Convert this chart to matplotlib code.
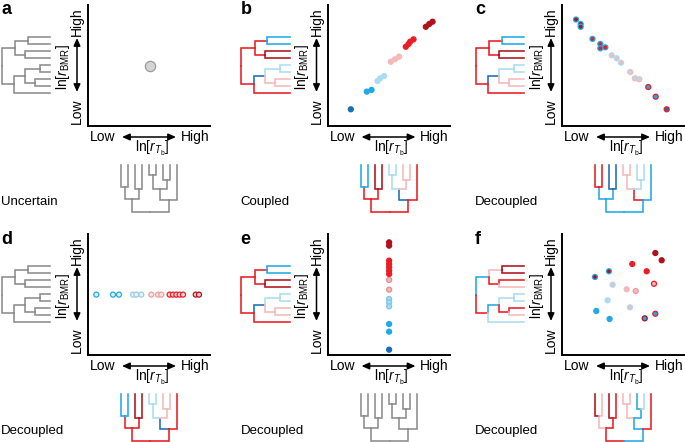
import numpy as np
import matplotlib
matplotlib.use('Agg')
import matplotlib.pyplot as plt

plt.rcParams['font.family'] = ['Liberation Sans', 'DejaVu Sans']
plt.rcParams['mathtext.fontset'] = 'custom'
plt.rcParams['mathtext.rm'] = 'Liberation Sans'
plt.rcParams['mathtext.it'] = 'Liberation Sans:italic'

W, H = 685, 442

# colores de tasas
DB = '#1c6db5'   # azul oscuro
B = '#1fa9e6'    # azul
LB = '#abdcf2'   # azul claro
LP = '#f5b9b9'   # rosa claro
R = '#ec1c24'    # rojo
DR = '#b0111b'   # rojo oscuro
G = '#8c8c8c'    # gris

# paneles
labels = ['a', 'b', 'c', 'd', 'e', 'f']
captions = ['Uncertain', 'Coupled', 'Decoupled', 'Decoupled', 'Decoupled', 'Decoupled']

# datos de dispersion (fraccion de los ejes)
a_x = [0.505]
a_y = [0.50]
a_face = ['#d4d4d4']
a_edge = ['#9a9a9a']

b_x = [0.191, 0.322, 0.361, 0.410, 0.432, 0.464, 0.519, 0.552, 0.587,
       0.642, 0.664, 0.678, 0.705, 0.806, 0.834, 0.861]
b_y = [0.138, 0.284, 0.298, 0.372, 0.394, 0.413, 0.531, 0.551, 0.573,
       0.655, 0.678, 0.697, 0.716, 0.820, 0.843, 0.862]
b_face = [DB, B, B, LB, LB, LB, LP, LP, LP, R, R, R, R, DR, DR, DR]
b_edge = b_face

c_x = [0.115, 0.153, 0.153, 0.250, 0.314, 0.314, 0.355, 0.407, 0.448,
       0.484, 0.560, 0.598, 0.634, 0.707, 0.768, 0.858]
c_y = [0.880, 0.843, 0.820, 0.720, 0.678, 0.642, 0.650, 0.584, 0.560,
       0.523, 0.446, 0.394, 0.386, 0.322, 0.242, 0.138]
c_face = [DR, DR, DR, R, R, R, R, LP, LP, LP, LB, LB, LB, B, B, DB]
c_edge = [B, B, B, B, B, B, B, LB, LB, LB, LP, LP, LP, R, R, R]

d_x = [0.068, 0.205, 0.254, 0.369, 0.396, 0.437, 0.519, 0.574, 0.601,
       0.669, 0.697, 0.724, 0.751, 0.779, 0.883, 0.910]
d_y = [0.499] * 16
d_edge = [B, B, B, '#9fcbe0', '#9fcbe0', '#9fcbe0', '#e8a0a0', '#e8a0a0', '#e8a0a0',
          R, R, R, R, R, DR, DR]
d_face = ['#dff1fa', '#dff1fa', '#dff1fa', '#e6f4fa', '#e6f4fa', '#e6f4fa',
          '#fbe4e4', '#fbe4e4', '#fbe4e4', '#fbd5d5', '#fbd5d5', '#fbd5d5',
          '#fbd5d5', '#fbd5d5', '#f2c9c9', '#f2c9c9']

e_x = [0.505] * 15
e_y = [0.931, 0.904, 0.780, 0.752, 0.725, 0.697, 0.669, 0.620, 0.540,
       0.463, 0.435, 0.402, 0.256, 0.193, 0.044]
e_face = [DR, DR, R, R, R, R, R, LP, LP, LB, LB, LB, B, B, DB]
e_edge = [DR, DR, R, R, R, R, R, '#e48f8f', '#e48f8f', '#7fc4e8', '#7fc4e8', '#7fc4e8',
          B, B, DB]

f_x = [0.765, 0.817, 0.576, 0.385, 0.694, 0.270, 0.415, 0.754, 0.530,
       0.604, 0.374, 0.557, 0.281, 0.390, 0.678, 0.765]
f_y = [0.843, 0.783, 0.752, 0.692, 0.692, 0.645, 0.581, 0.589, 0.543,
       0.529, 0.452, 0.394, 0.364, 0.298, 0.303, 0.341]
f_face = [DR, DR, R, DR, R, DR, LP, LP, LP, LP, LB, LP, B, B, B, B]
f_edge = [DR, DR, R, B, R, B, LB, R, LP, '#ee9898', LB, LB, B, B, DR, R]

scatter_x = [a_x, b_x, c_x, d_x, e_x, f_x]
scatter_y = [a_y, b_y, c_y, d_y, e_y, f_y]
scatter_face = [a_face, b_face, c_face, d_face, e_face, f_face]
scatter_edge = [a_edge, b_edge, c_edge, d_edge, e_edge, f_edge]

# topologia del arbol (profundidad en px, hijos)
NODES = {
    'root': (0.0, ['T', 'Bt']),
    'T': (13.3, ['P1', 'P2']),
    'P1': (25.7, ['t1', 't2']),
    'P2': (23.3, ['t3', 't4']),
    'Bt': (12.3, ['I', 't9']),
    'I': (23.3, ['P3', 'P4']),
    'P3': (38.3, ['t5', 't6']),
    'P4': (33.3, ['t7', 't8']),
}
TIPS = ['t1', 't2', 't3', 't4', 't5', 't6', 't7', 't8', 't9']
TIP_DEPTH = 48.3

# colores de ramas
tree_gray = {}
tree_coupled = {'T': R, 'P1': R, 't1': B, 't2': B, 'P2': R, 't3': DR, 't4': DR,
                'Bt': R, 'I': DB, 'P3': LB, 't5': LB, 't6': LB,
                'P4': LP, 't7': LP, 't8': LP, 't9': R}
tree_c_bottom = {'T': B, 'P1': B, 't1': R, 't2': R, 'P2': B, 't3': DB, 't4': DB,
                 'Bt': B, 'I': R, 'P3': LP, 't5': LP, 't6': LP,
                 'P4': LB, 't7': LB, 't8': LB, 't9': B}
tree_f_left = {'T': B, 'P1': LP, 't1': DR, 't2': DR, 'P2': R, 't3': R, 't4': LP,
               'Bt': R, 'I': B, 'P3': LB, 't5': LB, 't6': LB,
               'P4': R, 't7': R, 't8': LP, 't9': LB}
tree_f_bottom = {'T': R, 'P1': LP, 't1': DR, 't2': LP, 'P2': R, 't3': DR, 't4': R,
                 'Bt': B, 'I': B, 'P3': LP, 't5': LP, 't6': LP,
                 'P4': B, 't7': B, 't8': LB, 't9': R}

left_trees = [tree_gray, tree_coupled, tree_coupled, tree_gray, tree_coupled, tree_f_left]
bottom_trees = [tree_gray, tree_coupled, tree_c_bottom, tree_coupled, tree_gray, tree_f_bottom]

COLS = [88, 327.5, 562]
ROWS = [5, 234]


def nodeDepth(name):
    return NODES[name][0] if name in NODES else TIP_DEPTH


def nodePos(name):
    if name in TIPS:
        return 7.0 * TIPS.index(name)
    kids = NODES[name][1]
    return (nodePos(kids[0]) + nodePos(kids[-1])) / 2


def drawTree(ax, x0, y0, cols, vertical=False, scale=1.0):
    for name, (d, kids) in NODES.items():
        p = nodePos(name)
        for k in kids:
            pk = nodePos(k)
            dk = nodeDepth(k)
            c = cols.get(k, G)
            pts = [(d, p), (d, pk), (dk, pk)]
            if vertical:
                xs = [x0 + q[1] for q in pts]
                ys = [y0 - q[0] * scale for q in pts]
            else:
                xs = [x0 + q[0] * scale for q in pts]
                ys = [y0 + q[1] for q in pts]
            ax.plot(xs, ys, color=c, lw=1.15, solid_capstyle='projecting',
                    solid_joinstyle='miter')


def arrow(ax, x1, y1, x2, y2):
    ax.annotate('', xy=(x2, y2), xytext=(x1, y1),
                arrowprops=dict(arrowstyle='<|-|>,head_length=0.45,head_width=0.2',
                                color='black', lw=1.1, shrinkA=0, shrinkB=0))


def drawPanel(fig, ax0, i):
    S = COLS[i % 3]
    T = ROWS[i // 3]
    Lx = S - 87

    ax0.text(Lx, T + 5, labels[i], fontsize=13, fontweight='bold', va='center', ha='left')
    ax0.text(Lx, T + 197, captions[i], fontsize=9.5, va='center', ha='left')

    # eje vertical
    ax0.text(S - 11, T + 17, 'High', rotation=90, fontsize=10, ha='center', va='center')
    ax0.text(S - 11, T + 106, 'Low', rotation=90, fontsize=10, ha='center', va='center')
    ax0.text(S - 25, T + 62, r'ln[$r_{\mathrm{BMR}}$]', rotation=90, fontsize=10,
             ha='center', va='center')
    arrow(ax0, S - 11, T + 87, S - 11, T + 33)

    # eje horizontal
    ax0.text(S + 15, T + 132, 'Low', fontsize=10, ha='center', va='center')
    ax0.text(S + 107, T + 132, 'High', fontsize=10, ha='center', va='center')
    ax0.text(S + 64, T + 143, r'ln[$r_{T_{\mathrm{b}}}$]', fontsize=10, ha='center', va='center')
    arrow(ax0, S + 34, T + 132, S + 88, T + 132)

    drawTree(ax0, S - 86, T + 32, left_trees[i])
    drawTree(ax0, S + 33.5, T + 207, bottom_trees[i], vertical=True, scale=47 / TIP_DEPTH)

    # dispersion
    ax = fig.add_axes([S / W, (H - T - 121) / H, 122 / W, 121 / H])
    ax.set_facecolor('none')
    big = i == 0
    ax.scatter(scatter_x[i], scatter_y[i], s=55 if big else 13,
               c=scatter_face[i], edgecolors=scatter_edge[i],
               linewidths=0.9, clip_on=False, zorder=3)
    ax.set_xlim(0, 1)
    ax.set_ylim(0, 1)
    ax.set_xticks([])
    ax.set_yticks([])
    for side in ['top', 'right']:
        ax.spines[side].set_visible(False)
    for side in ['left', 'bottom']:
        ax.spines[side].set_linewidth(1.4)


def run():
    fig = plt.figure(figsize=(W / 100, H / 100), dpi=100)
    ax0 = fig.add_axes([0, 0, 1, 1])
    ax0.set_xlim(0, W)
    ax0.set_ylim(H, 0)
    ax0.axis('off')
    for i in range(6):
        drawPanel(fig, ax0, i)
    fig.savefig('out.png', dpi=100)


if __name__ == '__main__':
    run()
